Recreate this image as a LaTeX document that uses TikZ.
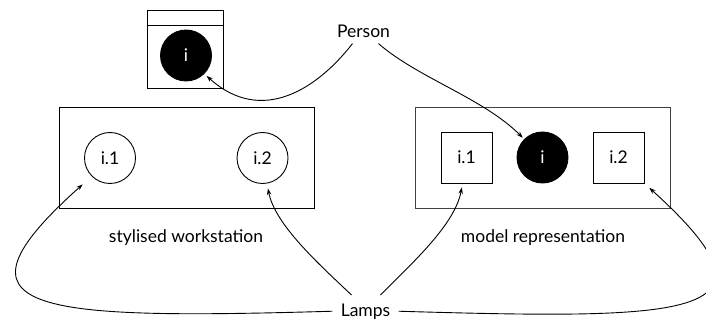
\documentclass[tikz,border=0pt]{standalone}
\usepackage{fontspec}
\setmainfont{Lato}
\usetikzlibrary{arrows.meta}
\begin{document}
\begin{tikzpicture}[x=1pt,y=-1pt,
  line width=0.9pt,
  every node/.style={font=\fontsize{17.5}{21}\selectfont},
  frame/.style={draw, rectangle, minimum width=255pt, minimum height=101pt, inner sep=0pt},
  lamp/.style={draw, circle, minimum size=51pt, inner sep=0pt},
  lampsq/.style={draw, rectangle, minimum size=51pt, inner sep=0pt},
  person/.style={draw, fill=black, circle, minimum size=51pt, inner sep=0pt, text=white},
  label/.style={inner sep=5pt},
  link/.style={-{Stealth[length=6.5pt,width=4.5pt]}}
]
\useasboundingbox (0,0) rectangle (706,320);
\clip (0,0) rectangle (706,320);

% figure of a person above the workstation
\node[draw, rectangle, minimum width=76pt, minimum height=78pt, inner sep=0pt] (tbox) at (185,49) {};
\draw ([yshift=-16pt]tbox.north west) -- ([yshift=-16pt]tbox.north east);
\node[person] (ti) at (186,55.5) {i};

% stylised workstation
\node[frame] (ws) at (186.5,157.5) {};
\node[lamp] (wi1) at (110,158) {i.1};
\node[lamp] (wi2) at (262.5,158) {i.2};
\node[anchor=base] (wslab) at (186,243) {stylised workstation};

% model representation
\node[frame, draw=black!75] (mr) at (542.5,157.5) {};
\node[lampsq] (mi1) at (466.5,157.5) {i.1};
\node[person] (mc) at (542.5,157.5) {i};
\node[lampsq] (mi2) at (618.5,157.5) {i.2};
\node[anchor=base] (mrlab) at (543,243) {model representation};

% labels
\node[anchor=base, label] (pers) at (363.5,38) {Person};
\node[anchor=base, inner sep=8pt] (lamps) at (365.5,316) {Lamps};

% connectors from Person
\draw[link, shorten >=3pt] ([xshift=-11pt]pers.south) .. controls (318,88) and (262,126) .. (ti.-45);
\draw[link, shorten >=2pt] ([xshift=15pt]pers.south) .. controls (418,78) and (483,98) .. (mc.135);

% connectors from Lamps
\draw[link, shorten >=12pt] (lamps.west) .. controls (30,320) and (-60,312) .. (wi1.south west);
\draw[link, shorten >=5pt] ([xshift=-14pt]lamps.north) .. controls (320,265) and (275,225) .. (wi2.280);
\draw[link, shorten >=4pt] ([xshift=15pt]lamps.north) .. controls (410,265) and (455,225) .. ([xshift=-4pt]mi1.south);
\draw[link, shorten >=6.5pt] (lamps.east) .. controls (697,320) and (792,317) .. (mi2.south east);
\end{tikzpicture}
\end{document}
